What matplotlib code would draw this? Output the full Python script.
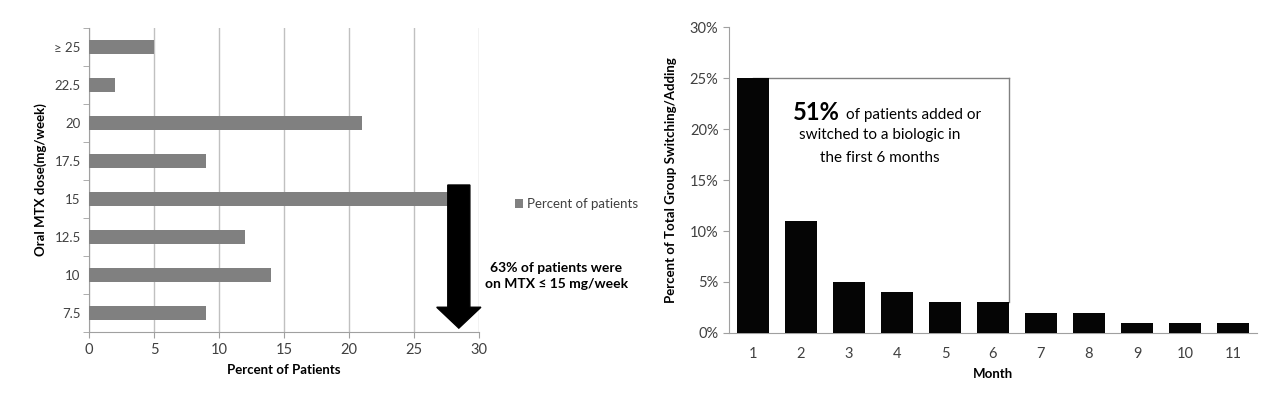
import matplotlib
matplotlib.use("Agg")
import matplotlib.pyplot as plt
from matplotlib.patches import FancyArrow
from matplotlib.ticker import FuncFormatter, FixedLocator

plt.rcParams["font.family"] = ["Lato", "DejaVu Sans"]

# left chart: oral MTX dose distribution
dose_labels = ["7.5", "10", "12.5", "15", "17.5", "20", "22.5", "≥ 25"]
dose_pct = [9, 14, 12, 28, 9, 21, 2, 5]

# right chart: switching/adding biologic by month
months = [1, 2, 3, 4, 5, 6, 7, 8, 9, 10, 11]
switch_pct = [25, 11, 5, 4, 3, 3, 2, 2, 1, 1, 1]

TICK_COL = "#404040"
AXIS_COL = "#a0a0a0"

fig = plt.figure(figsize=(12.8, 3.94), dpi=100)

# ---- left panel ----
ax1 = fig.add_axes([0.0695, 0.157, 0.3047, 0.772])
ypos = list(range(len(dose_labels)))
bars = ax1.barh(ypos, dose_pct, height=0.38, color="#808080", label="Percent of patients", zorder=3)
ax1.set_xlim(0, 30)
ax1.set_ylim(-0.5, len(dose_labels) - 0.5)
ax1.set_xticks(range(0, 31, 5))
ax1.set_yticks(ypos)
ax1.set_yticklabels(dose_labels)
ax1.yaxis.set_minor_locator(FixedLocator([i - 0.5 for i in range(len(dose_labels) + 1)]))
ax1.tick_params(axis="y", which="major", length=0, labelsize=9.5, colors=TICK_COL, pad=6)
ax1.tick_params(axis="y", which="minor", length=4, color=AXIS_COL)
ax1.tick_params(axis="x", length=4, color=AXIS_COL, labelsize=10.5, labelcolor=TICK_COL)
ax1.grid(axis="x", color="#c0c0c0", linewidth=1, zorder=0)
for s in ["top", "right"]:
    ax1.spines[s].set_visible(False)
for s in ["left", "bottom"]:
    ax1.spines[s].set_color(AXIS_COL)
ax1.set_xlabel("Percent of Patients", fontsize=9.5, fontweight="bold", labelpad=5)
ax1.set_ylabel("Oral MTX dose(mg/week)", fontsize=9.5, fontweight="bold", labelpad=5)

arrow = FancyArrow(28.45, 3.37, 0, -3.765, width=1.7, head_width=3.4, head_length=0.55,
                   length_includes_head=True, color="black", zorder=5, clip_on=False)
ax1.add_patch(arrow)

ax1.legend(handles=[bars], loc="center left", bbox_to_anchor=(0.393, 1 - 204 / 394),
           bbox_transform=fig.transFigure, frameon=False, fontsize=9.5,
           handlelength=0.6, handleheight=0.6, handletextpad=0.3, labelcolor=TICK_COL)
fig.text(0.4345, 1 - 276 / 394, "63% of patients were\non MTX ≤ 15 mg/week", ha="center",
         va="center", fontsize=10, fontweight="bold", linespacing=1.45)

# ---- right panel ----
ax2 = fig.add_axes([0.5695, 0.155, 0.4125, 0.776])
ax2.bar(months, switch_pct, width=0.66, color="#050505", zorder=3)
ax2.set_xlim(0.5, 11.5)
ax2.set_ylim(0, 30)
ax2.set_xticks(months)
ax2.set_yticks(range(0, 31, 5))
ax2.yaxis.set_major_formatter(FuncFormatter(lambda v, p: f"{int(v)}%"))
ax2.tick_params(axis="y", length=4, color=AXIS_COL, labelsize=10.5, labelcolor=TICK_COL)
ax2.tick_params(axis="x", length=0, labelsize=10.5, labelcolor=TICK_COL, pad=10)
for s in ["top", "right"]:
    ax2.spines[s].set_visible(False)
for s in ["left", "bottom"]:
    ax2.spines[s].set_color(AXIS_COL)
ax2.set_xlabel("Month", fontsize=9.5, fontweight="bold", labelpad=5)
ax2.set_ylabel("Percent of Total Group Switching/Adding", fontsize=9.5, fontweight="bold", labelpad=9)

# box around first six months
box_right = months[5] + 0.33
ax2.plot([months[0], box_right], [switch_pct[0], switch_pct[0]], color="#808080", lw=1, zorder=2)
ax2.plot([box_right, box_right], [switch_pct[0], switch_pct[5]], color="#808080", lw=1, zorder=2)

ax2.text(2.81, 21.6, "51%", ha="right", va="center", fontsize=17, fontweight="bold")
ax2.text(2.93, 21.4, "of patients added or", ha="left", va="center", fontsize=11)
ax2.text(3.65, 19.4, "switched to a biologic in", ha="center", va="center", fontsize=11)
ax2.text(3.65, 17.2, "the first 6 months", ha="center", va="center", fontsize=11)

fig.savefig("out.png", dpi=100)
